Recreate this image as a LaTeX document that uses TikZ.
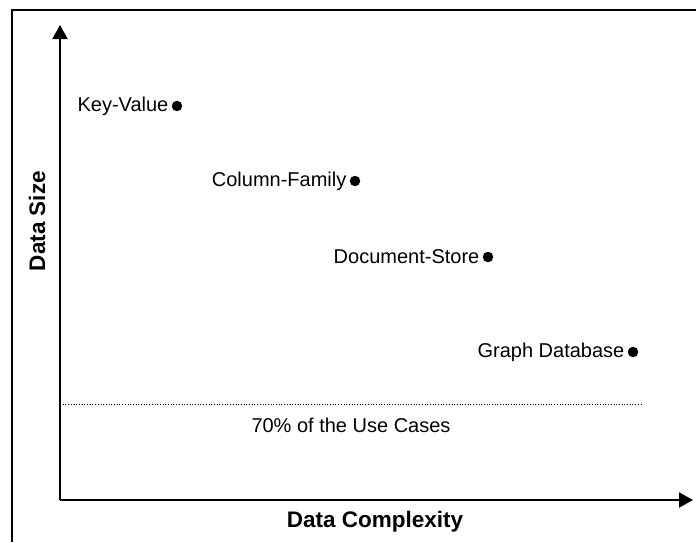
\documentclass[tikz,border=0pt]{standalone}
\usepackage{fontspec}
\setmainfont{Liberation Sans}
\usetikzlibrary{arrows.meta,positioning}
\begin{document}
\begin{tikzpicture}[x=1pt,y=-1pt,
  axis/.style={line width=2pt,-{Triangle[length=14pt,width=15pt]}},
  frame/.style={line width=1.3pt},
  dotpt/.style={circle,fill=black,inner sep=0pt,minimum size=10.5pt},
  lbl/.style={inner sep=0pt,font=\fontsize{20}{22}\selectfont},
  title/.style={inner sep=0pt,font=\fontsize{22.5}{24}\selectfont\bfseries},
  limit/.style={line width=0.7pt,dotted}]
  \useasboundingbox (0,0) rectangle (696,542);
  % open frame: top and left edges
  \draw[frame] (12,542) -- (12,10) -- (696,10);
  % axes
  \coordinate (o) at (60,500);
  \coordinate (ytop) at (60,25);
  \coordinate (xend) at (693,500);
  \draw[axis] (o) -- (ytop);
  \draw[axis] (o) -- (xend);
  \node[title] (xlab) at (375,522) {Data Complexity};
  \node[title,rotate=90] (ylab) at (37,221) {Data Size};
  % 70% threshold
  \coordinate (la) at (60,404);
  \coordinate (lb) at (642,404);
  \draw[limit] (la) -- (lb);
  \node[lbl] (share) at (351,425) {70\% of the Use Cases};
  % data models
  \node[dotpt] (kv) at (177,106) {};
  \node[lbl,left=3pt of kv] (kvl) {Key-Value};
  \node[dotpt] (cf) at (355,181) {};
  \node[lbl,left=3pt of cf] (cfl) {Column-Family};
  \node[dotpt] (ds) at (488,257) {};
  \node[lbl,left=3pt of ds] (dsl) {Document-Store};
  \node[dotpt] (gd) at (633,352) {};
  \node[lbl,left=3pt of gd] (gdl) {Graph Database};
\end{tikzpicture}
\end{document}
